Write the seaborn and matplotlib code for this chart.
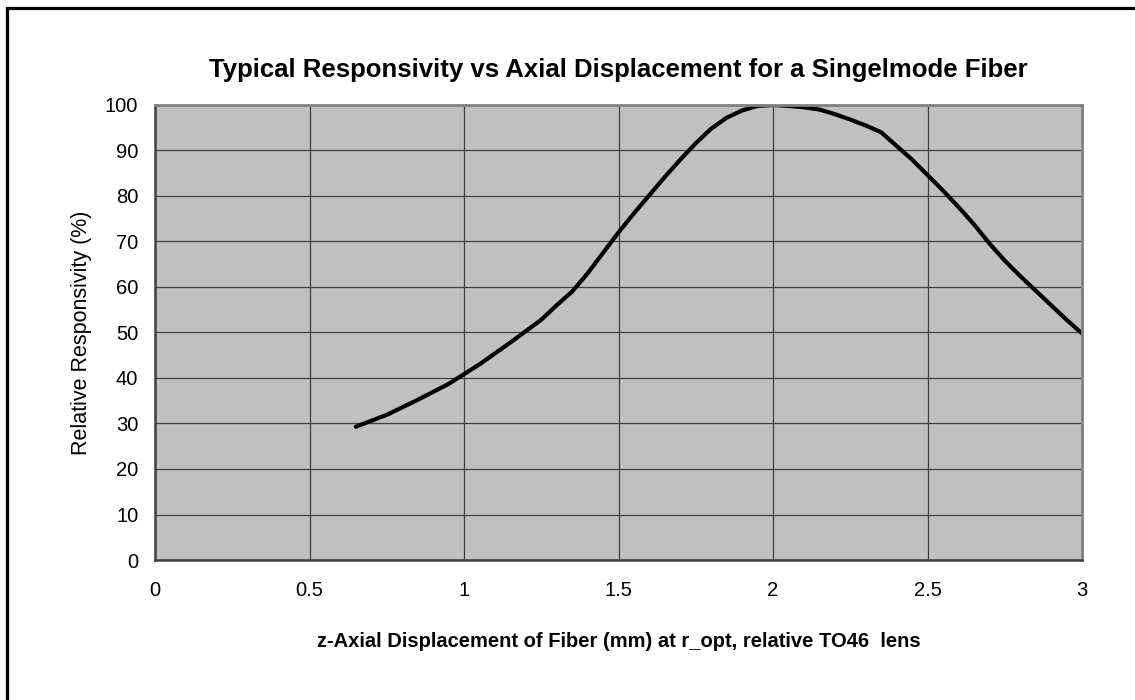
import seaborn as sns
import matplotlib.pyplot as plt
import matplotlib.patches as patches
import pandas as pd

# Responsivity curve
z_mm = [0.65, 0.75, 0.85, 0.95, 1.05, 1.15, 1.25, 1.30, 1.35, 1.40, 1.45,
        1.50, 1.55, 1.60, 1.65, 1.70, 1.75, 1.80, 1.85, 1.90, 1.95, 2.00,
        2.05, 2.10, 2.15, 2.20, 2.25, 2.30, 2.35, 2.40, 2.45, 2.50, 2.55,
        2.60, 2.65, 2.70, 2.75, 2.80, 2.85, 2.90, 2.95, 3.00]
responsivity = [29.3, 31.9, 35.2, 38.7, 43.0, 47.8, 52.8, 56.0, 59.0, 63.0, 67.5,
                72.0, 76.2, 80.2, 84.2, 88.0, 91.6, 94.8, 97.2, 98.8, 99.8, 100.0,
                99.8, 99.5, 99.0, 98.0, 96.8, 95.5, 94.0, 91.0, 88.0, 84.6, 81.2,
                77.6, 73.8, 69.6, 65.8, 62.4, 59.2, 56.0, 52.8, 49.8]
x_ticks = [0, 0.5, 1, 1.5, 2, 2.5, 3]
x_tick_labels = ["0", "0.5", "1", "1.5", "2", "2.5", "3"]

df = pd.DataFrame({"z": z_mm, "r": responsivity})

sns.set_style("white")
plt.rcParams["font.family"] = ["Liberation Sans", "DejaVu Sans"]
plt.rcParams["text.color"] = "black"
plt.rcParams["axes.labelcolor"] = "black"

fig = plt.figure(figsize=(11.35, 7), dpi=100)
ax = fig.add_axes([0.1366, 0.2, 0.9533 - 0.1366, 0.65])
ax.set_facecolor("#C0C0C0")

sns.lineplot(data=df, x="z", y="r", ax=ax, color="black", linewidth=3)

ax.set_xlim(0, 3)
ax.set_ylim(0, 100)
ax.set_xticks(x_ticks)
ax.set_xticklabels(x_tick_labels)
ax.set_yticks(range(0, 101, 10))
ax.grid(True, color="#404040", linewidth=0.9)
ax.set_axisbelow(True)

for side in ["top", "right"]:
    ax.spines[side].set_color("#808080")
    ax.spines[side].set_linewidth(2)
for side in ["left", "bottom"]:
    ax.spines[side].set_color("#404040")
    ax.spines[side].set_linewidth(1.8)

ax.tick_params(axis="both", direction="out", length=5, width=1, color="#404040",
               labelsize=14.5, labelcolor="black")
ax.tick_params(axis="x", pad=10)
ax.tick_params(axis="y", pad=7)

ax.set_title("Typical Responsivity vs Axial Displacement for a Singelmode Fiber",
             fontsize=18.5, fontweight="bold", pad=20, color="black")
ax.set_xlabel("z-Axial Displacement of Fiber (mm) at r_opt, relative TO46  lens",
              fontsize=14.5, fontweight="bold", labelpad=23)
ax.set_ylabel("Relative Responsivity (%)", fontsize=15.5, labelpad=9)

# outer chart frame (right and bottom edges fall outside the image)
fig.patches.append(patches.Rectangle((0.0066, -0.1), 1.2, 1.088, transform=fig.transFigure,
                                     fill=False, edgecolor="black", linewidth=2.3))

plt.savefig("out.png", dpi=100)
